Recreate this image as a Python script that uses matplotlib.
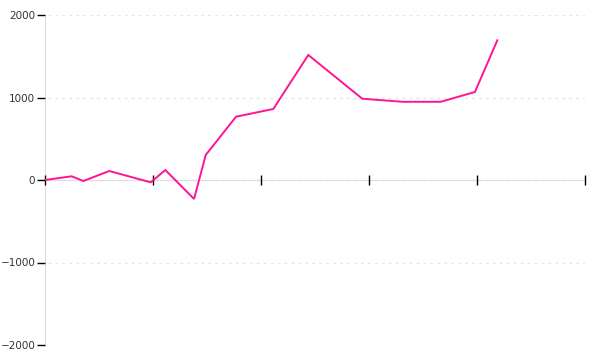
import matplotlib
matplotlib.use("Agg")
import matplotlib.pyplot as plt

x_vals = [0.0, 0.247, 0.355, 0.595, 0.979, 1.114, 1.380, 1.488, 1.769, 2.114,
          2.438, 2.938, 3.312, 3.664, 3.981, 4.188]
y_vals = [0, 45, -12, 109, -28, 121, -230, 303, 767, 861,
          1515, 985, 948, 948, 1067, 1693]
x_ticks = [0, 1, 2, 3, 4, 5]
y_ticks = [-2000, -1000, 0, 1000, 2000]

fig = plt.figure(figsize=(6, 3.6), dpi=100)
ax = fig.add_axes([45/600, 15/360, 540/600, 330/360])
ax.plot(x_vals, y_vals, color="#ff1493", lw=1.4, solid_joinstyle="miter")
ax.set_xlim(0, 5)
ax.set_ylim(-2000, 2000)
ax.set_xticks(x_ticks)
ax.set_xticklabels([])
ax.set_yticks(y_ticks)
ax.set_yticklabels([str(v).replace("-", "\u2212") for v in y_ticks])
for v in y_ticks:
    ax.axhline(v, color="#e6e6e6", lw=1, ls=(0, (2, 3)), zorder=0, xmin=3/540)
ax.spines["top"].set_visible(False)
ax.spines["right"].set_visible(False)
ax.spines["left"].set_color("#dddddd")
ax.spines["left"].set_zorder(0.5)
ax.spines["bottom"].set_position(("data", 0))
ax.spines["bottom"].set_color("#dddddd")
ax.spines["bottom"].set_zorder(0.5)
ax.tick_params(axis="x", direction="inout", length=7, width=1, color="black")
ax.tick_params(axis="y", direction="out", length=6, width=1, color="black",
               labelsize=7.5, labelcolor="#333333", pad=1)
fig.savefig("out.png", dpi=100)
